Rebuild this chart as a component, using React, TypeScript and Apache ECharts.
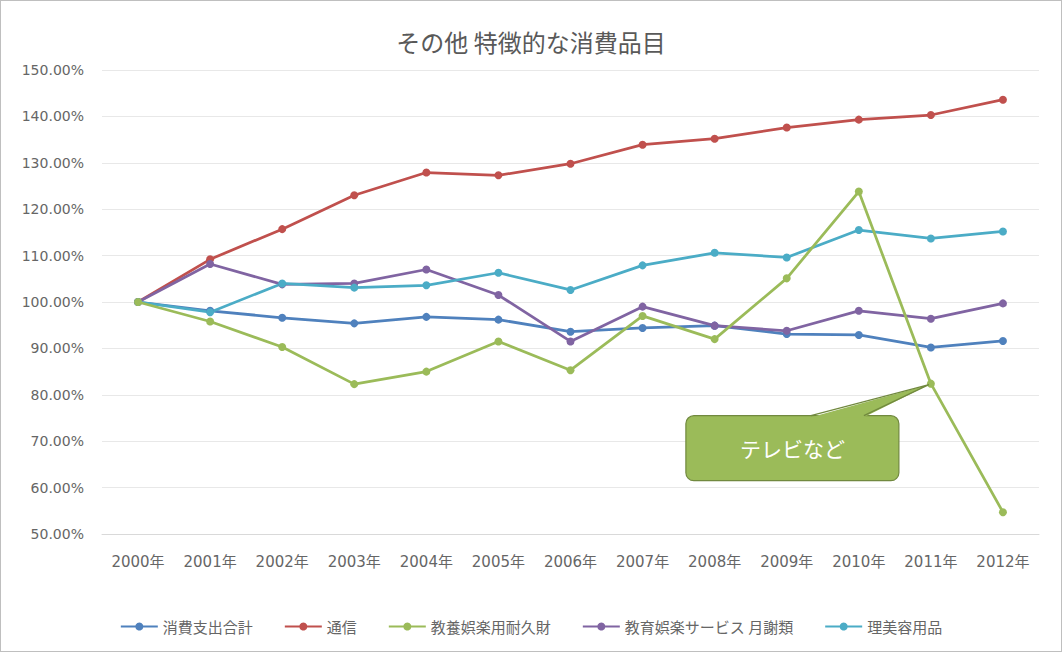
import React, { useEffect, useRef } from "react";
import * as echarts from "echarts";

const years = ["2000年", "2001年", "2002年", "2003年", "2004年", "2005年", "2006年", "2007年", "2008年", "2009年", "2010年", "2011年", "2012年"];
const seriesNames = ["消費支出合計", "通信", "教養娯楽用耐久財", "教育娯楽サービス 月謝類", "理美容用品"];
const consumptionTotal = [100, 98.1, 96.6, 95.4, 96.8, 96.2, 93.6, 94.4, 94.9, 93.1, 92.9, 90.2, 91.6];
const telecom = [100, 109.2, 115.7, 123.0, 127.9, 127.3, 129.8, 133.9, 135.2, 137.6, 139.3, 140.3, 143.6];
const durables = [100, 95.8, 90.3, 82.3, 85.0, 91.5, 85.3, 97.0, 92.0, 105.1, 123.8, 82.4, 54.7];
const lessons = [100, 108.2, 103.8, 104.0, 107.0, 101.5, 91.5, 99.0, 94.9, 93.8, 98.1, 96.4, 99.7];
const beauty = [100, 97.8, 104.0, 103.1, 103.6, 106.3, 102.6, 107.9, 110.6, 109.6, 115.5, 113.7, 115.2];
const colors = ["#4F81BD", "#C0504D", "#9BBB59", "#8064A2", "#4BACC6"];
const calloutText = "テレビなど";
const calloutIndex = 11;

export default function App() {
  const ref = useRef<HTMLDivElement>(null);
  useEffect(() => {
    const chart = echarts.init(ref.current!, null, { renderer: "svg" });
    const allData = [consumptionTotal, telecom, durables, lessons, beauty];
    const cjk = "'Noto Sans CJK JP', 'Noto Sans', sans-serif";
    const axisFont = "'DejaVu Sans', 'Noto Sans CJK JP', sans-serif";
    chart.setOption({
      animation: false,
      backgroundColor: "#ffffff",
      color: colors,
      title: {
        text: "その他 特徴的な消費品目",
        left: "center",
        top: 23,
        textStyle: { fontFamily: cjk, fontSize: 24, fontWeight: "normal", color: "#595959" },
      },
      legend: {
        top: 613,
        left: "center",
        itemGap: 31,
        itemWidth: 37,
        itemHeight: 10,
        textStyle: { fontFamily: cjk, fontSize: 15, color: "#666666" },
        data: seriesNames,
      },
      grid: { left: 101, right: 22, top: 69, bottom: 117 },
      xAxis: {
        type: "category",
        data: years,
        boundaryGap: true,
        axisLine: { lineStyle: { color: "#d9d9d9" } },
        axisTick: { show: false },
        axisLabel: { fontFamily: axisFont, fontSize: 15, color: "#666666", margin: 20 },
      },
      yAxis: {
        type: "value",
        min: 50,
        max: 150,
        interval: 10,
        axisLine: { show: false },
        axisTick: { show: false },
        splitLine: { lineStyle: { color: "#e8e8e8", width: 1 } },
        axisLabel: {
          fontFamily: axisFont,
          fontSize: 14,
          color: "#666666",
          margin: 18,
          formatter: (v: number) => v.toFixed(2) + "%",
        },
      },
      series: seriesNames.map((name, i) => ({
        name,
        type: "line",
        data: allData[i],
        symbol: "circle",
        symbolSize: 8,
        lineStyle: { width: 2.75, color: colors[i] },
        itemStyle: { color: colors[i] },
        z: i === 2 ? 3 : 2,
      })),
    });
    const apex = chart.convertToPixel({ gridIndex: 0 }, [calloutIndex, durables[calloutIndex]]) as number[];
    const ax = apex[0];
    const ay = apex[1];
    const boxL = ax - 245;
    const boxT = ay + 32;
    const boxW = 213;
    const boxH = 65;
    chart.setOption({
      graphic: [
        {
          type: "rect",
          shape: { x: boxL, y: boxT, width: boxW, height: boxH, r: 8 },
          style: { fill: "#9BBB59", stroke: "#71893F", lineWidth: 1.2 },
          z: 100,
        },
        {
          type: "polygon",
          shape: { points: [[boxL + 125, boxT + 1.5], [ax - 2, ay + 1], [boxL + 178, boxT + 1.5]] },
          style: { fill: "#9BBB59" },
          z: 101,
        },
        {
          type: "polyline",
          shape: { points: [[boxL + 125, boxT], [ax - 2, ay + 1], [boxL + 178, boxT]] },
          style: { stroke: "#71893F", lineWidth: 1.2, fill: null },
          z: 102,
        },
        {
          type: "text",
          x: boxL + boxW / 2,
          y: boxT + boxH / 2,
          style: {
            text: calloutText,
            fill: "#ffffff",
            font: "21px 'Noto Sans CJK JP', sans-serif",
            align: "center",
            verticalAlign: "middle",
          },
          z: 103,
        },
      ],
    });
    return () => chart.dispose();
  }, []);
  return (
    <div
      style={{
        position: "fixed",
        left: 0,
        top: 0,
        width: 1062,
        height: 652,
        boxSizing: "border-box",
        border: "1px solid #bfbfbf",
        background: "#fff",
      }}
    >
      <div ref={ref} style={{ width: 1060, height: 650 }} />
    </div>
  );
}
